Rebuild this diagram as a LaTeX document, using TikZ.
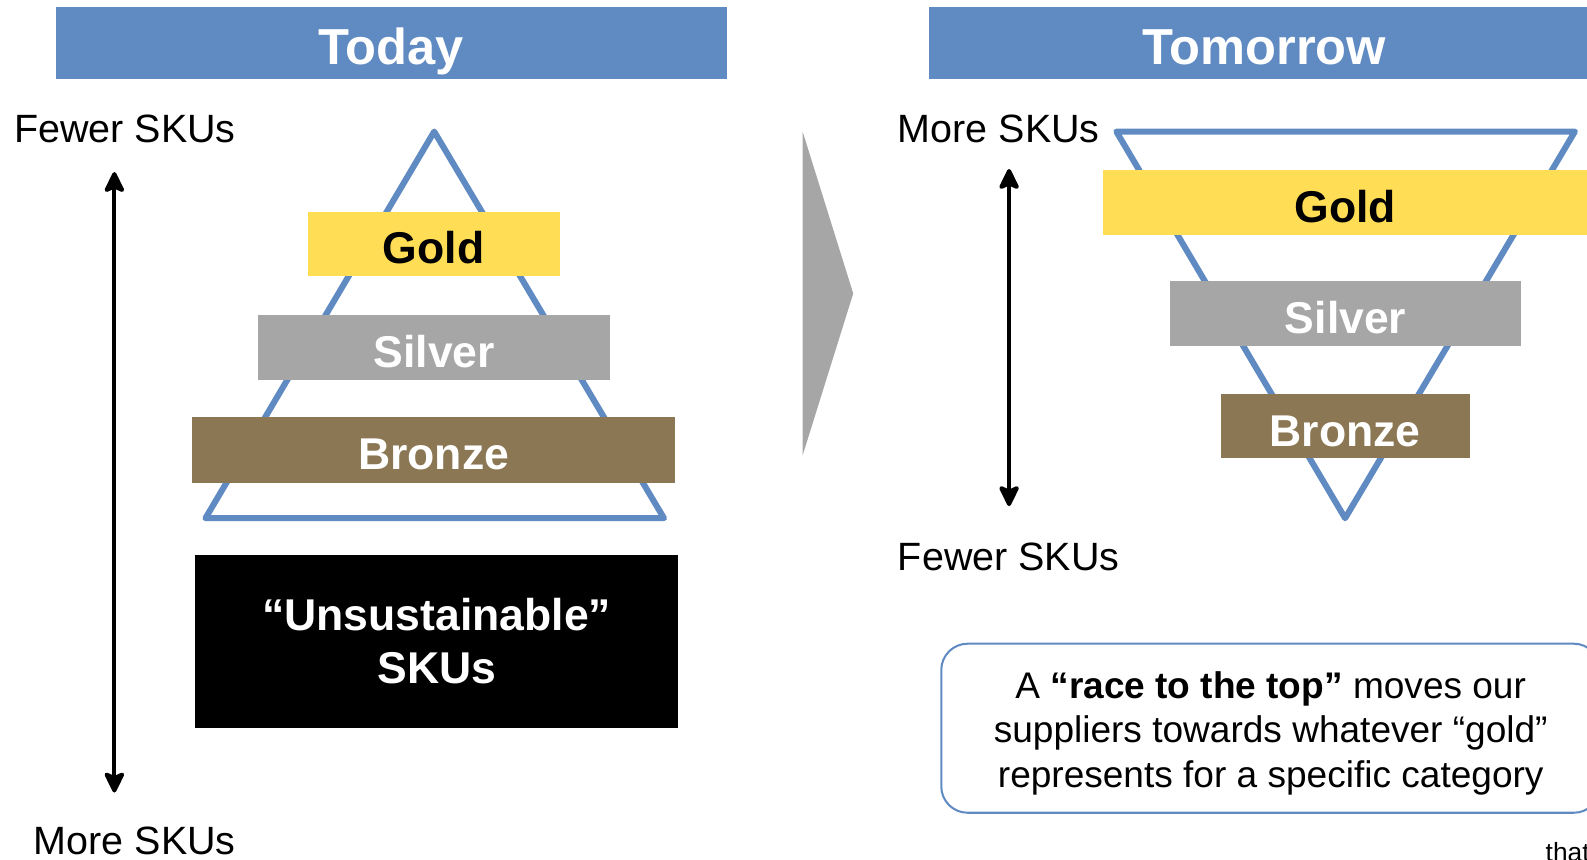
\documentclass[tikz,border=0pt]{standalone}
\usepackage{fontspec}
\setmainfont{Liberation Sans}
\usetikzlibrary{positioning,arrows.meta}
\definecolor{hdrblue}{HTML}{5F8AC2}
\definecolor{goldfill}{HTML}{FFDD55}
\definecolor{silverfill}{HTML}{A6A6A6}
\definecolor{bronzefill}{HTML}{8B7753}
\tikzset{header/.style={fill=hdrblue,text=white,inner sep=0pt,minimum height=71pt,
  font=\fontsize{50}{56}\selectfont\bfseries,text height=43pt,text depth=0pt}}
\tikzset{tier/.style={inner sep=0pt,minimum height=64pt,
  font=\fontsize{44}{50}\selectfont\bfseries,text height=39.5pt,text depth=0pt}}
\tikzset{skulabel/.style={inner sep=0pt,font=\fontsize{39}{46}\selectfont}}
\tikzset{pyramid/.style={draw=hdrblue,line width=6pt,line join=round}}
\tikzset{span/.style={{Stealth[length=24pt,width=23pt,inset=5pt,round]}-{Stealth[length=24pt,width=23pt,inset=5pt,round]},line width=4pt}}

\begin{document}
\begin{tikzpicture}[x=1pt,y=-1pt]
  \useasboundingbox (0,0) rectangle (1568,849);
  % headers
  \node[header,minimum width=663pt] (today) at (386.5,42.5) {Today};
  \node[header,minimum width=662pt] (tomorrow) at (1249,42.5) {Tomorrow};
  % today: pyramid
  \node[skulabel,anchor=base east] (fewerL) at (233,141) {Fewer SKUs};
  \node[skulabel,anchor=base east] (moreL) at (233,844) {More SKUs};
  \coordinate (topL) at (113,170);
  \coordinate (botL) at (113,783);
  \draw[span] (topL) -- (botL);
  \draw[pyramid] (429,130) -- (656,512) -- (203,512) -- cycle;
  \node[tier,fill=goldfill,minimum width=249pt] (goldL) at (428.5,241) {Gold};
  \node[tier,fill=silverfill,text=white,minimum width=348pt] (silverL) at (429,343) {Silver};
  \node[tier,fill=bronzefill,text=white,minimum width=477pt,minimum height=65pt] (bronzeL) at (428.5,444.5) {Bronze};
  \node[fill=black,text=white,inner sep=0pt,minimum width=477pt,minimum height=171pt,align=center,
    font=\fontsize{44}{52.4}\selectfont\bfseries] (unsust) at (431.5,633.5) {“Unsustainable”\\SKUs};
  % chevron
  \fill[silverfill] (793,130) -- (843,290) -- (793,450) -- cycle;
  % tomorrow: inverted pyramid
  \node[skulabel,anchor=base west] (moreR) at (887,141) {More SKUs};
  \node[skulabel,anchor=base west] (fewerR) at (887,564) {Fewer SKUs};
  \coordinate (topR) at (997,167);
  \coordinate (botR) at (997,500);
  \draw[span] (topR) -- (botR);
  \draw[pyramid] (1103,130) -- (1556,130) -- (1329,512) -- cycle;
  \node[tier,fill=goldfill,minimum width=478pt] (goldR) at (1329,200) {Gold};
  \node[tier,fill=silverfill,text=white,minimum width=347pt] (silverR) at (1329.5,310) {Silver};
  \node[tier,fill=bronzefill,text=white,minimum width=246pt] (bronzeR) at (1329,421) {Bronze};
  % note
  \node[draw=hdrblue,line width=2pt,rounded corners=26pt,minimum width=651pt,minimum height=167pt] (note) at (1255.5,719.5) {};
  \node[align=center,inner sep=0pt,font=\fontsize{36.6}{44}\selectfont] (notetext) at ([yshift=-5pt]note.center)
    {A \textbf{“race to the top”} moves our\\suppliers towards whatever “gold”\\represents for a specific category};
  \node[anchor=base west,inner sep=0pt,font=\fontsize{26}{30}\selectfont] (that) at (1527,851) {that};
\end{tikzpicture}
\end{document}
